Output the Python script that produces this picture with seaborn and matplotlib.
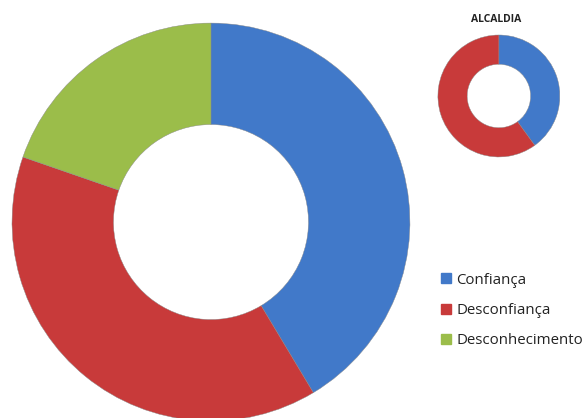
import seaborn as sns
import matplotlib.pyplot as plt
from matplotlib.lines import Line2D

# Datos
categorias = ['Confiança', 'Desconfiança', 'Desconhecimento']
geral = [41.4, 38.9, 19.7]
alcaldia_cat = ['Confiança', 'Desconfiança']
alcaldia = [40, 60]

colores = ['#4179c9', '#c83a3a', '#9bbd4a']

sns.set_theme(style='white')
plt.rcParams['font.family'] = ['Open Sans', 'DejaVu Sans']

fig = plt.figure(figsize=(5.87, 4.18), dpi=100)

# Donut grande
ax1 = fig.add_axes([0.0204, -0.0072, 0.678, 0.952])
ax1.pie(geral, colors=colores, startangle=90, counterclock=False,
        radius=1, wedgeprops=dict(width=0.51, linewidth=0.3, edgecolor='#888888'))
ax1.set_xlim(-1, 1)
ax1.set_ylim(-1, 1)
ax1.set_aspect('equal')
ax1.axis('off')

# Donut pequeño
ax2 = fig.add_axes([0.746, 0.6244, 0.2078, 0.2919])
ax2.pie(alcaldia, colors=colores[:2], startangle=90, counterclock=False,
        radius=1, wedgeprops=dict(width=0.48, linewidth=0.3, edgecolor='#888888'))
ax2.set_xlim(-1, 1)
ax2.set_ylim(-1, 1)
ax2.set_aspect('equal')
ax2.axis('off')
fig.text(496 / 587, 1 - 20 / 418, 'ALCALDIA', ha='center', va='center',
         fontsize=7.5, fontweight='bold', color='#222222')

# Leyenda
handles = [Line2D([0], [0], marker='s', linestyle='', markersize=6.5,
                  markerfacecolor=c, markeredgecolor=c) for c in colores]
fig.legend(handles, categorias, loc='upper left',
           bbox_to_anchor=(432 / 587, 1 - 265 / 418), frameon=False,
           fontsize=10.8, labelspacing=1.02, handlelength=0.8, handletextpad=0.3,
           borderpad=0, labelcolor='#222222')

plt.savefig('out.png', dpi=100)
